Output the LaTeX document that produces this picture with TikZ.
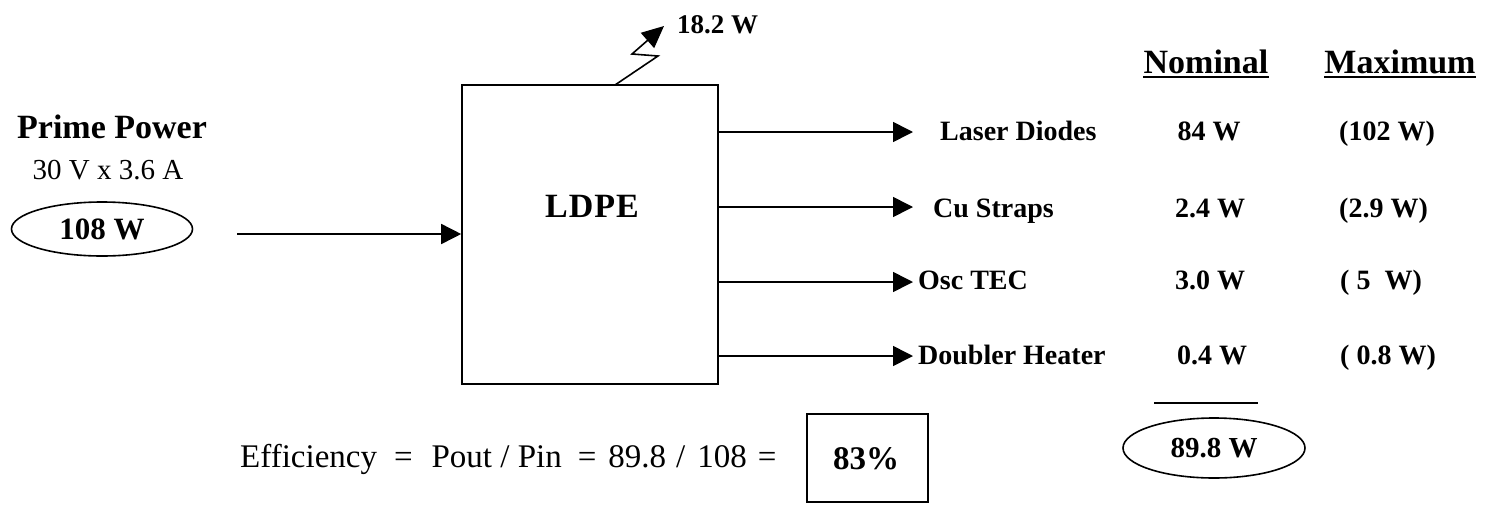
\documentclass[tikz,border=0pt]{standalone}
\usepackage{fontspec}
\setmainfont{Liberation Serif}
\usetikzlibrary{arrows.meta,shapes.geometric}
\newcommand\fsz[1]{\fontsize{#1}{#1}\selectfont}
\begin{document}
\begin{tikzpicture}[x=1pt,y=-1pt,
  lw/.style={line width=1.6pt},
  arr/.style={lw,-{Triangle[length=20pt,width=20pt]}},
  txt/.style={inner sep=0pt,anchor=base},
  txtl/.style={inner sep=0pt,anchor=base west},
  lab/.style={txtl,font=\fsz{28}\bfseries},
  val/.style={txt,font=\fsz{28}\bfseries},
  mx/.style={txtl,font=\fsz{28}\bfseries},
  hdr/.style={txt,font=\fsz{34}\bfseries},
  oval/.style={draw,lw,ellipse,inner sep=0pt}
]
\useasboundingbox (0,0) rectangle (1486,504);
% left
\node[hdr] (pp) at (112,138) {Prime Power};
\node[txt,font=\fsz{29}] (volt) at (108,179) {30 V x 3.6 A};
\node[oval,minimum width=181pt,minimum height=54pt,font=\fsz{31}\bfseries] (pin) at (102,229) {108 W};
% box
\node[draw,lw,minimum width=256pt,minimum height=299pt,inner sep=0pt] (ldpe) at (590,234.5) {};
\node[txt,font=\fsz{34}\bfseries] (ldpetxt) at (592,217) {L\kern1ptD\kern1ptP\kern1ptE};
\coordinate (instart) at (237,234);
\draw[arr] (instart) -- (instart -| ldpe.west);
% heat
\coordinate (z0) at (615,85);
\coordinate (z1) at (658,56);
\coordinate (z2) at (632,54);
\coordinate (z3) at (664,26);
\draw[lw,-{Triangle[length=22pt,width=20pt]}] (z0) -- (z1) -- (z2) -- (z3);
\node[txtl,font=\fsz{27}\bfseries] (heat) at (677,33) {18.2 W};
% headers
\node[hdr] (nom) at (1206,73) {Nominal};
\node[hdr] (max) at (1400,73) {Maximum};
\draw[line width=2pt] ([yshift=-4pt]nom.base west) -- ([yshift=-4pt]nom.base east);
\draw[line width=2pt] ([yshift=-4pt]max.base west) -- ([yshift=-4pt]max.base east);
% rows
\coordinate (t1) at (913,132);
\coordinate (t2) at (913,207);
\coordinate (t3) at (913,282);
\coordinate (t4) at (913,356);
\draw[arr] (t1 -| ldpe.east) -- (t1);
\draw[arr] (t2 -| ldpe.east) -- (t2);
\draw[arr] (t3 -| ldpe.east) -- (t3);
\draw[arr] (t4 -| ldpe.east) -- (t4);
\node[lab] (l1) at (940,140) {Laser Diodes};
\node[lab] (l2) at (933,217) {Cu Straps};
\node[lab] (l3) at (918,289) {Osc TEC};
\node[lab] (l4) at (918,364) {Doubler Heater};
\node[val] (n1) at (1209,140) {84 W};
\node[val] (n2) at (1210,217) {2.4 W};
\node[val] (n3) at (1210,289) {3.0 W};
\node[val] (n4) at (1212,364) {0.4 W};
\node[mx] (m1) at (1339,140) {(102 W)};
\node[mx] (m2) at (1339,217) {(2.9 W)};
\node[mx] (m3) at (1340,289) {( 5~~W)};
\node[mx] (m4) at (1340,364) {( 0.8 W)};
% total
\coordinate (b0) at (1154,403);
\coordinate (b1) at (1258,403);
\draw[line width=2.4pt] (b0) -- (b1);
\node[oval,minimum width=182pt,minimum height=60pt,font=\fsz{29}\bfseries] (tot) at (1214,448) {89.8 W};
% efficiency
\node[txtl,font=\fsz{33}] (eff) at (240,467) {Efficiency\hspace{17pt}=\hspace{19pt}Pout / Pin\hspace{16pt}=\hspace{12pt}89.8\hspace{10pt}/\hspace{12pt}108\hspace{11pt}=};
\node[draw,lw,minimum width=121pt,minimum height=88pt,inner sep=0pt] (effbox) at (867.5,458) {};
\node[txt,font=\fsz{33}\bfseries] (effv) at (866,469) {83\%};
\end{tikzpicture}
\end{document}
